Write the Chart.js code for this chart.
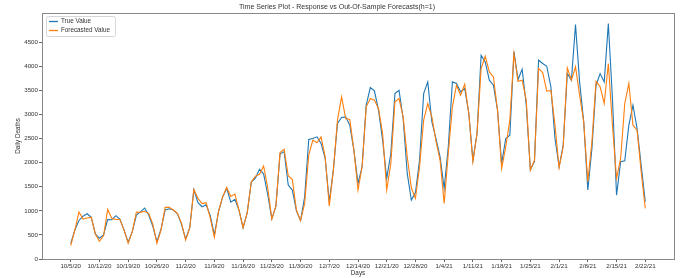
<!DOCTYPE html>
<html><head><meta charset="utf-8">
<script src="https://cdn.jsdelivr.net/npm/chart.js@4/dist/chart.umd.min.js"></script>
<style>html,body{margin:0;padding:0;background:#fff;overflow:hidden}#wrap{width:686px;height:278px}</style>
</head><body><div id="wrap"><canvas id="c" width="686" height="278"></canvas></div>
<script>
const tickDays = [0,7,14,21,28,35,42,49,56,63,70,77,84,91,98,105,112,119,126,133,140];
const tickLabels = ['10/5/20','10/12/20','10/19/20','10/26/20','11/2/20','11/9/20','11/16/20','11/23/20','11/30/20','12/7/20','12/14/20','12/21/20','12/28/20','1/4/21','1/11/21','1/18/21','1/25/21','2/1/21','2/8/21','2/15/21','2/22/21'];
const yTicks = [0,500,1000,1500,2000,2500,3000,3500,4000,4500];
const trueValues = [325,600,800,890,940,865,520,430,500,820,816,900,823,600,350,567,913,980,1058,913,680,360,620,1017,1044,1017,940,720,415,650,1440,1170,1086,1125,900,500,980,1280,1470,1180,1240,1017,650,960,1600,1680,1865,1770,1340,835,1100,2180,2230,1535,1432,1000,800,1290,2483,2503,2538,2400,2089,1190,1850,2815,2939,2953,2780,2262,1570,1916,3195,3562,3493,3091,2469,1674,2192,3437,3506,2918,1777,1224,1380,2054,3437,3679,2850,2500,2120,1466,2331,3679,3645,3472,3541,3022,2054,2607,4233,4094,3714,3610,3091,1985,2504,2573,4310,3728,3942,3200,1850,2030,4129,4060,4004,3576,2504,1916,2365,3852,3714,4869,3679,2849,1432,2296,3610,3852,3679,4890,3333,1328,2019,2040,2780,3195,2711,1950,1190];
const forecastValues = [277,600,975,830,850,865,520,367,480,1030,845,823,820,600,325,567,975,968,990,948,726,325,600,1072,1072,1017,948,740,394,640,1445,1260,1150,1170,850,450,982,1290,1487,1300,1350,1017,650,960,1600,1722,1760,1933,1480,830,1100,2210,2280,1730,1650,1017,795,1155,2158,2469,2414,2538,2123,1100,1847,2884,3368,2918,2898,2262,1432,1916,3160,3333,3299,3126,2607,1432,1985,3264,3333,2953,2123,1480,1259,1916,2884,3230,2953,2450,2050,1155,2192,3160,3610,3403,3631,3022,2019,2600,3956,4212,3887,3783,3091,1881,2331,2884,4267,3693,3714,3299,1847,2054,3956,3873,3486,3500,2780,1895,2331,3970,3714,3991,3403,2849,1604,2434,3693,3576,3230,4060,2780,1674,2089,3230,3645,2780,2676,1812,1051];
const seriesNames = ['True Value','Forecasted Value'];
const seriesColors = ['#1f77b4','#ff7f0e'];

const FONT = 'Liberation Sans, Arial, sans-serif';
const TXT = '#333';

const framePlugin = {
  id: 'frame',
  afterDraw(chart) {
    const {ctx, chartArea: a} = chart;
    ctx.save();
    ctx.strokeStyle = '#888';
    ctx.lineWidth = 1;
    ctx.strokeRect(Math.round(a.left)+0.5, Math.round(a.top)+0.5, Math.round(a.right-a.left), Math.round(a.bottom-a.top));
    // legend
    const x0 = a.left + 4, y0 = a.top + 3, w = 69, h = 20;
    ctx.fillStyle = 'rgba(255,255,255,0.85)';
    ctx.strokeStyle = '#d6d6d6';
    ctx.beginPath();
    if (ctx.roundRect) ctx.roundRect(x0+0.5, y0+0.5, w, h, 2); else ctx.rect(x0+0.5, y0+0.5, w, h);
    ctx.fill(); ctx.stroke();
    ctx.font = '6.3px ' + FONT;
    ctx.textBaseline = 'middle';
    chart.data.datasets.forEach((ds, i) => {
      const yy = y0 + 5.5 + i * 9;
      ctx.strokeStyle = ds.borderColor;
      ctx.lineWidth = 1.3;
      ctx.beginPath(); ctx.moveTo(x0 + 3, yy); ctx.lineTo(x0 + 12, yy); ctx.stroke();
      ctx.fillStyle = TXT;
      ctx.fillText(ds.label, x0 + 15, yy);
    });
    ctx.restore();
  }
};

new Chart(document.getElementById('c'), {
  type: 'line',
  data: {
    datasets: [
      { label: seriesNames[0], data: trueValues.map((v, i) => ({x: i, y: v})), borderColor: seriesColors[0], backgroundColor: seriesColors[0], borderWidth: 1.1, pointRadius: 0, tension: 0, order: 2 },
      { label: seriesNames[1], data: forecastValues.map((v, i) => ({x: i, y: v})), borderColor: seriesColors[1], backgroundColor: seriesColors[1], borderWidth: 1.1, pointRadius: 0, tension: 0, order: 1 }
    ]
  },
  options: {
    responsive: false, animation: false, devicePixelRatio: 1,
    layout: { padding: { left: 0, right: 12, top: 0, bottom: 0 } },
    plugins: {
      legend: { display: false },
      tooltip: { enabled: false },
      title: { display: true, text: 'Time Series Plot - Response vs Out-Of-Sample Forecasts(h=1)', color: TXT, font: { family: FONT, size: 7, weight: 'normal' }, padding: { top: 2.5, bottom: 2.1 } }
    },
    scales: {
      x: {
        type: 'linear', min: -7, max: 147,
        afterBuildTicks: s => { s.ticks = tickDays.map(v => ({ value: v })); },
        afterFit: s => { s.height = 19; },
        ticks: { autoSkip: false, maxRotation: 0, padding: 1, color: TXT, font: { family: FONT, size: 6.2 }, callback: v => tickLabels[tickDays.indexOf(v)] },
        grid: { display: true, drawOnChartArea: false, drawTicks: true, tickLength: 3, color: '#666' },
        border: { display: true, color: '#888' },
        title: { display: true, text: 'Days', color: TXT, font: { family: FONT, size: 6.3 }, padding: { top: 0, bottom: 1 } }
      },
      y: {
        min: 0, max: 5110,
        afterBuildTicks: s => { s.ticks = yTicks.map(v => ({ value: v })); },
        afterFit: s => { s.width = 42; },
        ticks: { padding: 1, color: TXT, font: { family: FONT, size: 6.2 }, callback: v => String(v) },
        grid: { display: true, drawOnChartArea: false, drawTicks: true, tickLength: 3, color: '#666' },
        border: { display: true, color: '#888' },
        title: { display: true, text: 'Daily Deaths', color: TXT, font: { family: FONT, size: 6.3 }, padding: { top: 14, bottom: 0 } }
      }
    }
  },
  plugins: [framePlugin]
});
</script></body></html>
